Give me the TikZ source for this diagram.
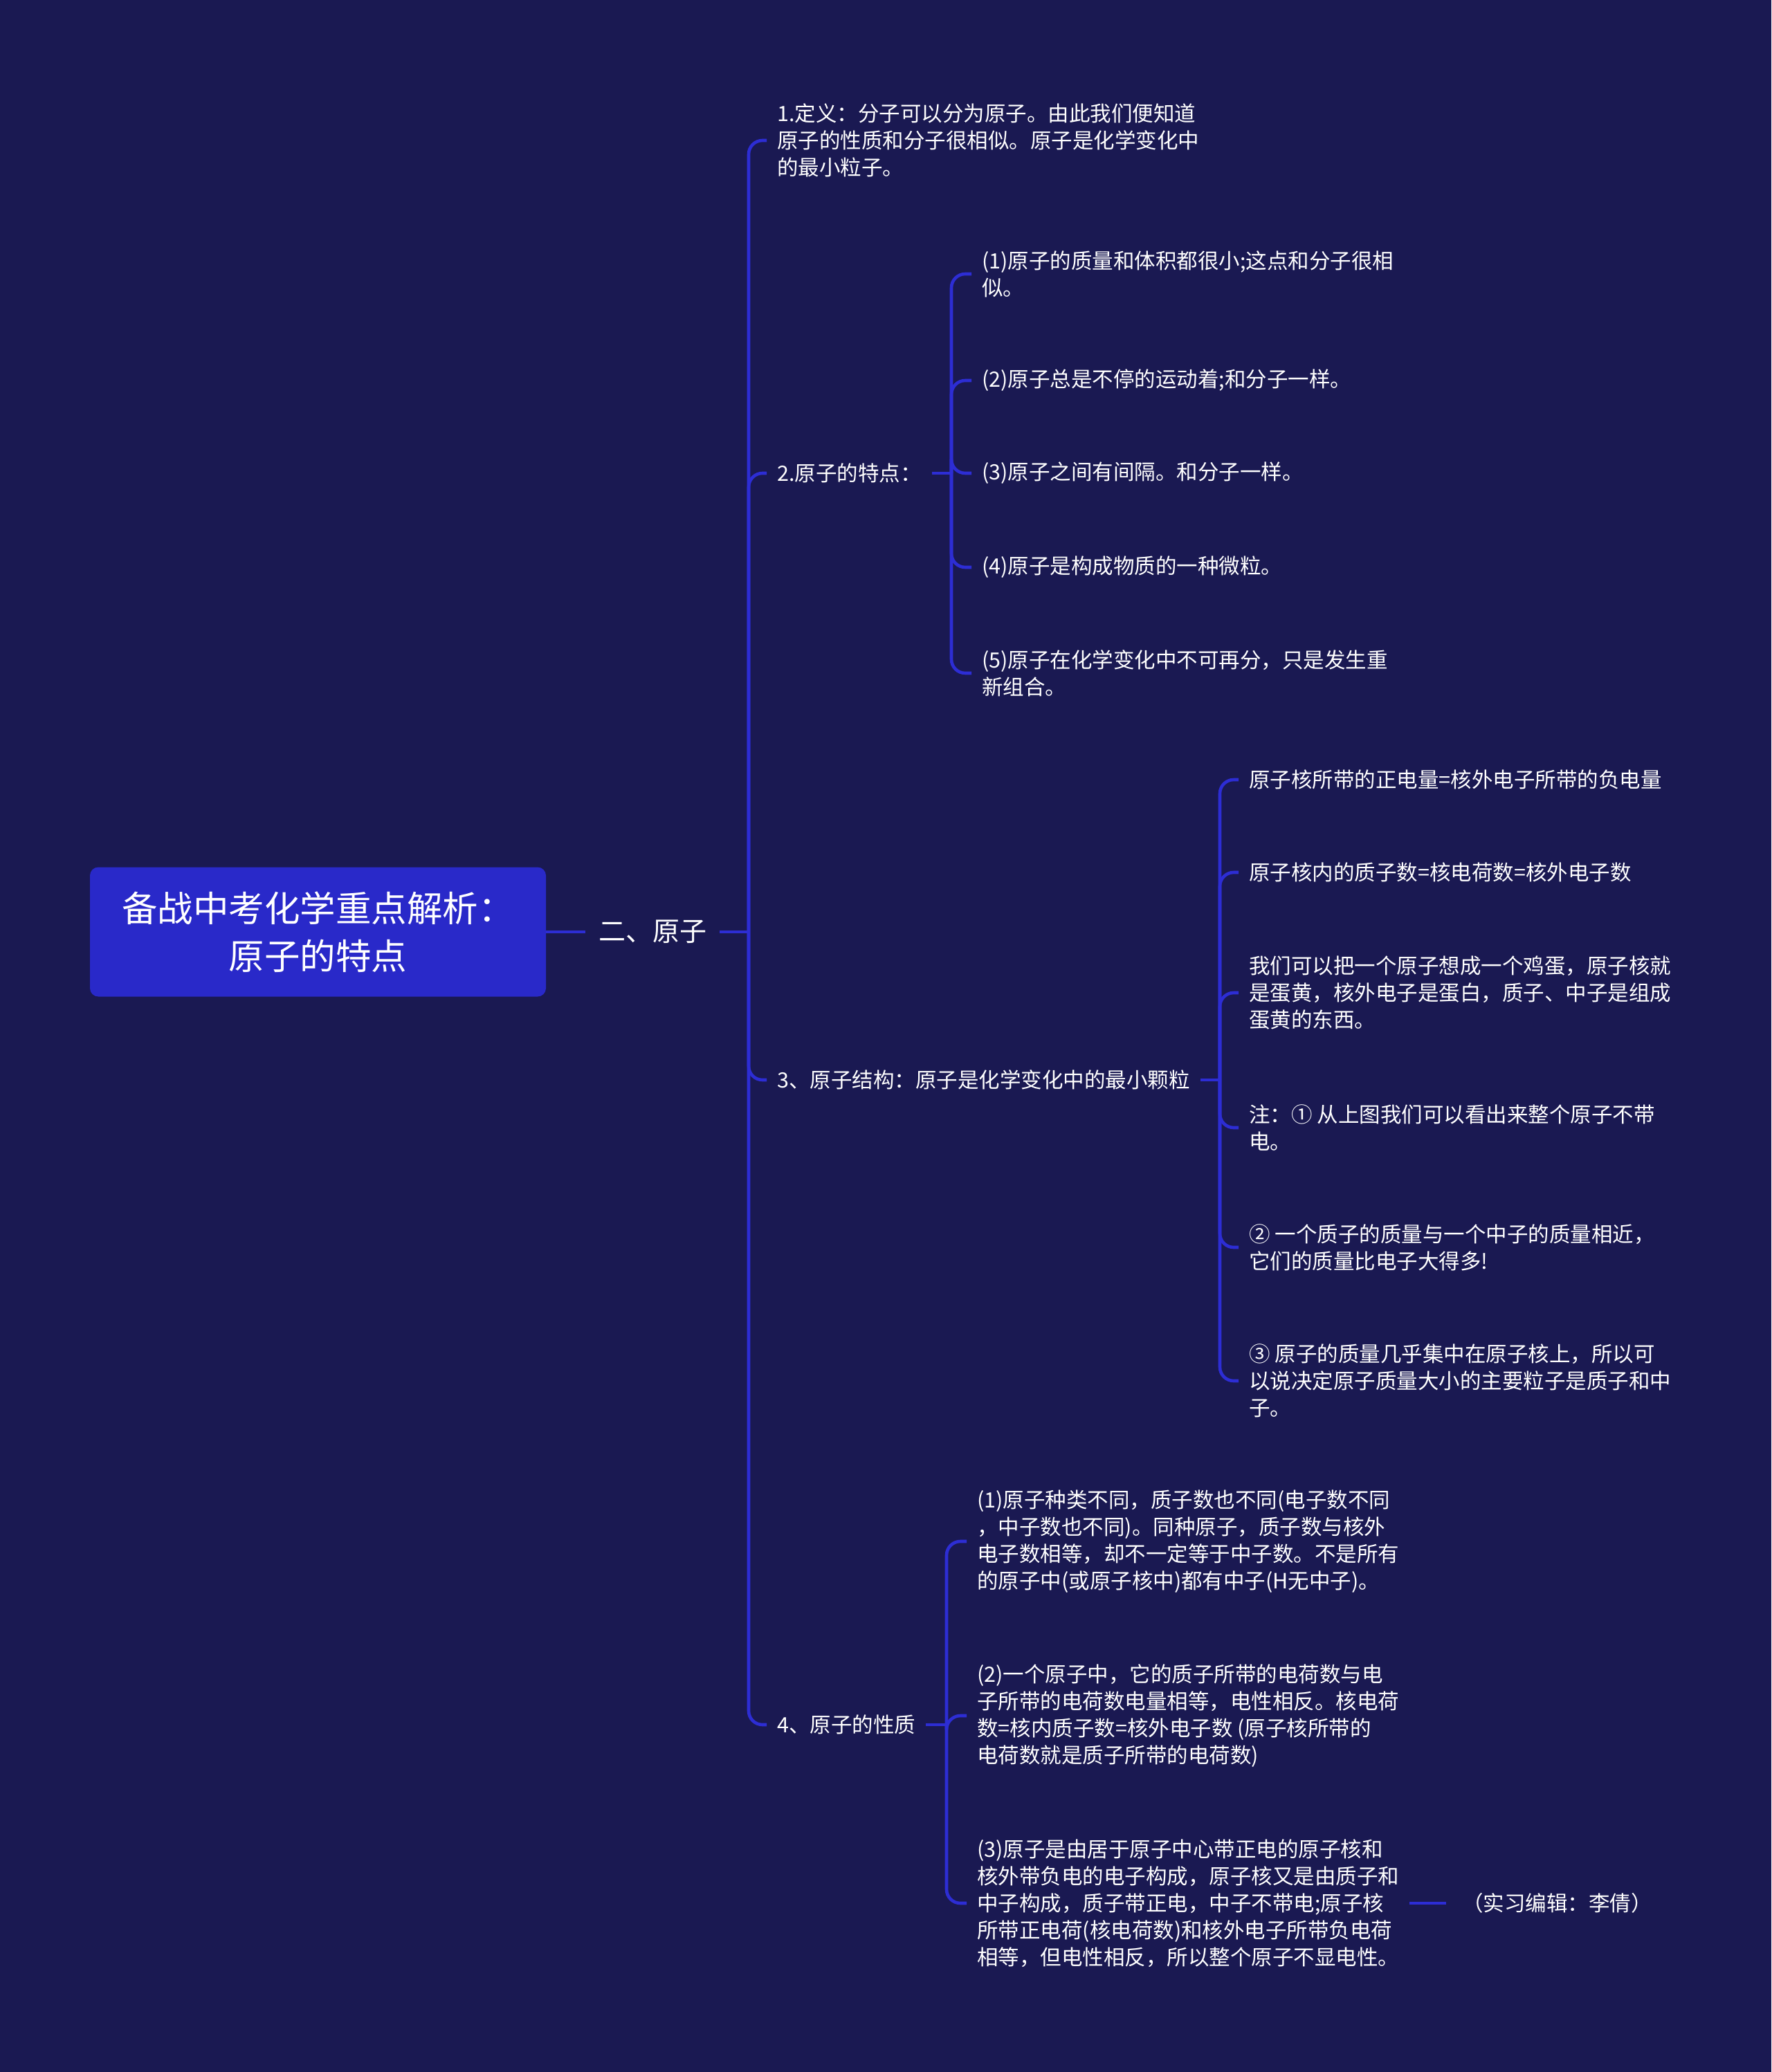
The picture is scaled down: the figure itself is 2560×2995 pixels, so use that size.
\documentclass[tikz,border=0pt]{standalone}
\usepackage{fontspec}
\setmainfont{Noto Sans CJK SC}
\definecolor{bgc}{RGB}{26,25,82}
\definecolor{linec}{RGB}{45,45,212}
\definecolor{rootc}{RGB}{41,41,201}
\begin{document}
\begin{tikzpicture}[x=1pt,y=-1pt,
  conn/.style={draw=linec, line width=4.6pt},
  hook/.style={draw=linec, line width=4.6pt, rounded corners=20pt},
  leaf/.style={anchor=west, text=white, inner xsep=15pt, inner ysep=4pt, align=left, font=\fontsize{30.5}{39}\selectfont},
  rootbox/.style={fill=rootc, rounded corners=12pt, text=white, align=center, minimum width=659pt, minimum height=187pt, inner sep=0pt, font=\fontsize{51.5}{69}\selectfont},
  secnode/.style={anchor=west, text=white, inner xsep=19pt, font=\fontsize{39}{48}\selectfont}
]
\fill[bgc] (0,0) rectangle (2560,2995);
\useasboundingbox (0,0) rectangle (2560,2995);

% root and section
\node[rootbox] (root) at (459.5,1347) {备战中考化学重点解析：\\原子的特点};
\node[secnode] (sec) at (846,1347) {二、原子};
\coordinate (v1) at (1082,1347);

% level 1
\node[leaf] (n1) at (1108,203) {1.定义：分子可以分为原子。由此我们便知道\\原子的性质和分子很相似。原子是化学变化中\\的最小粒子。};
\node[leaf] (n2) at (1108,684) {2.原子的特点：};
\node[leaf] (n3) at (1108,1561) {3、原子结构：原子是化学变化中的最小颗粒};
\node[leaf] (n4) at (1108,2493) {4、原子的性质};

% level 2 under n2
\coordinate (v2) at (1375,684);
\node[leaf] (a1) at (1404,396) {(1)原子的质量和体积都很小;这点和分子很相\\似。};
\node[leaf] (a2) at (1404,550) {(2)原子总是不停的运动着;和分子一样。};
\node[leaf] (a3) at (1404,684) {(3)原子之间有间隔。和分子一样。};
\node[leaf] (a4) at (1404,820) {(4)原子是构成物质的一种微粒。};
\node[leaf] (a5) at (1404,973) {(5)原子在化学变化中不可再分，只是发生重\\新组合。};

% level 2 under n3
\coordinate (v3) at (1763,1561);
\node[leaf] (b1) at (1790,1127) {原子核所带的正电量=核外电子所带的负电量};
\node[leaf] (b2) at (1790,1261) {原子核内的质子数=核电荷数=核外电子数};
\node[leaf] (b3) at (1790,1435) {我们可以把一个原子想成一个鸡蛋，原子核就\\是蛋黄，核外电子是蛋白，质子、中子是组成\\蛋黄的东西。};
\node[leaf] (b4) at (1790,1630) {注：① 从上图我们可以看出来整个原子不带\\电。};
\node[leaf] (b5) at (1790,1803) {② 一个质子的质量与一个中子的质量相近，\\它们的质量比电子大得多!};
\node[leaf] (b6) at (1790,1996) {③ 原子的质量几乎集中在原子核上，所以可\\以说决定原子质量大小的主要粒子是质子和中\\子。};

% level 2 under n4
\coordinate (v4) at (1368,2493);
\node[leaf] (c1) at (1397,2228) {(1)原子种类不同，质子数也不同(电子数不同\\，中子数也不同)。同种原子，质子数与核外\\电子数相等，却不一定等于中子数。不是所有\\的原子中(或原子核中)都有中子(H无中子)。};
\node[leaf] (c2) at (1397,2480) {(2)一个原子中，它的质子所带的电荷数与电\\子所带的电荷数电量相等，电性相反。核电荷\\数=核内质子数=核外电子数 (原子核所带的\\电荷数就是质子所带的电荷数)};
\node[leaf] (c3) at (1397,2751) {(3)原子是由居于原子中心带正电的原子核和\\核外带负电的电子构成，原子核又是由质子和\\中子构成，质子带正电，中子不带电;原子核\\所带正电荷(核电荷数)和核外电子所带负电荷\\相等，但电性相反，所以整个原子不显电性。};
\node[leaf, inner xsep=23pt] (ed) at (2090,2751) {（实习编辑：李倩）};

% connectors
\draw[conn] (root.east) -- (sec.west);
\draw[conn] (sec.east) -- (v1);
\foreach \c in {n1,n2,n3,n4} \draw[hook] (v1) |- (\c.west);

\draw[conn] (n2.east) -- (v2);
\foreach \c in {a1,a2,a3,a4,a5} \draw[hook] (v2) |- (\c.west);

\draw[conn] (n3.east) -- (v3);
\foreach \c in {b1,b2,b3,b4,b5,b6} \draw[hook] (v3) |- (\c.west);

\draw[conn] (n4.east) -- (v4);
\foreach \c in {c1,c2,c3} \draw[hook] (v4) |- (\c.west);

\draw[conn] (c3.east) -- (ed.west);
\end{tikzpicture}
\end{document}
